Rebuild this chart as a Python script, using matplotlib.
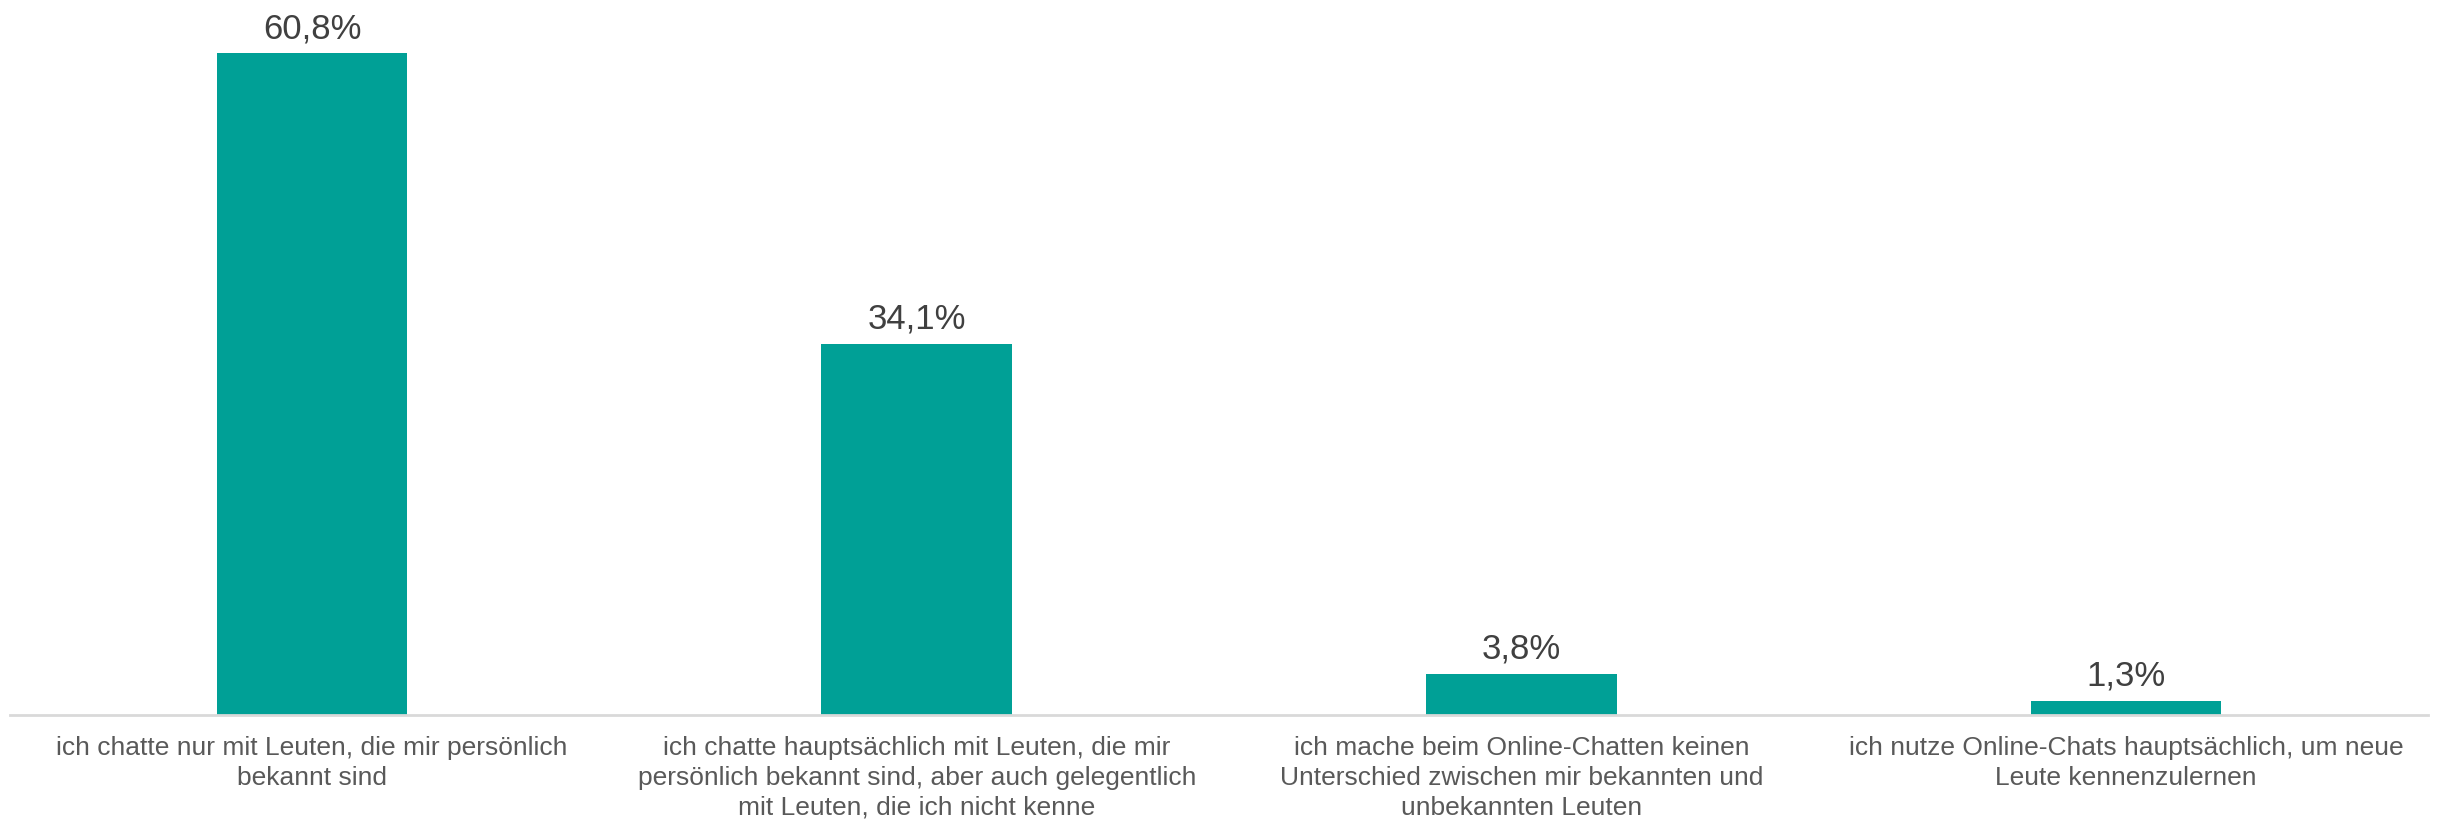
import matplotlib.pyplot as plt

categories = [
    "ich chatte nur mit Leuten, die mir persönlich\nbekannt sind",
    "ich chatte hauptsächlich mit Leuten, die mir\npersönlich bekannt sind, aber auch gelegentlich\nmit Leuten, die ich nicht kenne",
    "ich mache beim Online-Chatten keinen\nUnterschied zwischen mir bekannten und\nunbekannten Leuten",
    "ich nutze Online-Chats hauptsächlich, um neue\nLeute kennenzulernen",
]
values = [60.8, 34.1, 3.8, 1.3]
value_labels = ["60,8%", "34,1%", "3,8%", "1,3%"]

plt.rcParams['font.family'] = ['Liberation Sans', 'DejaVu Sans']

fig = plt.figure(figsize=(24.38, 8.24), dpi=100)
ax = fig.add_axes([0.004, 1 - 715 / 824, 0.992, 715 / 824])

x = range(len(values))
bars = ax.bar(x, values, width=0.315, color='#00A096')

for i, v in enumerate(values):
    ax.annotate(value_labels[i], (i, v), xytext=(0, 11), textcoords='offset points',
                ha='center', va='baseline', fontsize=25, color='#404040')

ax.set_xlim(-0.5, 3.5)
ax.set_ylim(0, 65.7)
ax.set_xticks(list(x))
ax.set_xticklabels(categories, fontsize=19, color='#595959', linespacing=1.32)
ax.tick_params(axis='x', length=0, pad=15)
ax.set_yticks([])
for s in ['top', 'right', 'left']:
    ax.spines[s].set_visible(False)
ax.spines['bottom'].set_color('#D9D9D9')
ax.spines['bottom'].set_linewidth(2)

fig.savefig('out.png', dpi=100)
